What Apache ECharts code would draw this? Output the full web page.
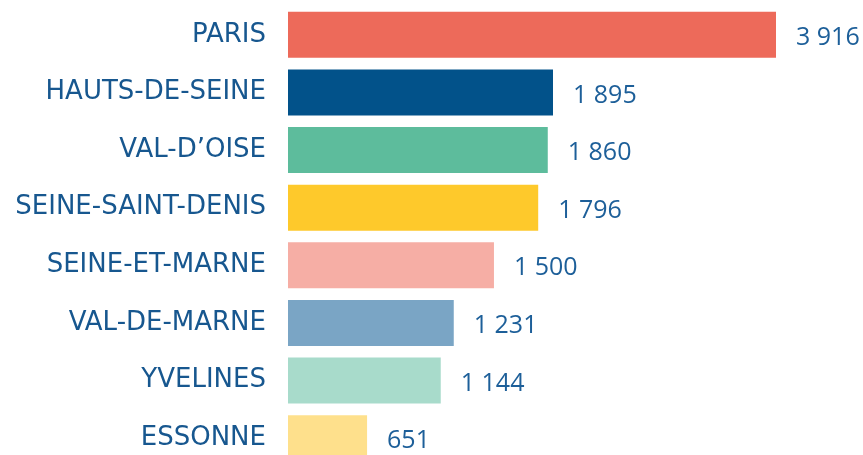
<!DOCTYPE html>
<html>
<head>
<meta charset="utf-8">
<script src="https://cdn.jsdelivr.net/npm/echarts@6/dist/echarts.min.js"></script>
<style>
  html, body { margin: 0; padding: 0; background: #fff; }
  #chart { width: 863px; height: 455px; }
</style>
</head>
<body>
<div id="chart"></div>
<script>
var departements = ["PARIS", "HAUTS-DE-SEINE", "VAL-D\u2019OISE", "SEINE-SAINT-DENIS",
    "SEINE-ET-MARNE", "VAL-DE-MARNE", "YVELINES", "ESSONNE"];
var valeurs = [3916, 1895, 1860, 1796, 1500, 1231, 1144, 651];
var couleurs = ["#ed6a5a", "#02528a", "#5dbc9c", "#fec92b",
    "#f6aea5", "#7aa5c5", "#a8dbcb", "#fee08c"];

var textColor = "#17578f";

// thousands with a space, french style
function formatNombre(v) {
    return String(v).replace(/\B(?=(\d{3})+(?!\d))/g, " ");
}

var chart = echarts.init(document.getElementById("chart"));

chart.setOption({
    animation: false,
    grid: {
        left: 288, right: 87, top: 6, height: 461,
        containLabel: false,
        outerBoundsMode: "none"
    },
    xAxis: {
        type: "value",
        min: 122,
        max: 3387,
        show: false
    },
    yAxis: {
        type: "category",
        inverse: true,
        data: departements,
        axisLine: { show: false },
        axisTick: { show: false },
        splitLine: { show: false },
        axisLabel: {
            margin: 22,
            color: textColor,
            fontFamily: "DejaVu Sans",
            fontSize: 26
        }
    },
    series: [{
        type: "bar",
        barWidth: 46,
        clip: true,
        data: valeurs.map(function (v, i) {
            return { value: v, itemStyle: { color: couleurs[i] } };
        }),
        label: {
            show: true,
            position: "right",
            distance: 20,
            offset: [0, 3],
            color: "#1d5f99",
            fontFamily: "Open Sans",
            fontSize: 25,
            formatter: function (p) { return formatNombre(p.value); }
        }
    }]
});
</script>
</body>
</html>
